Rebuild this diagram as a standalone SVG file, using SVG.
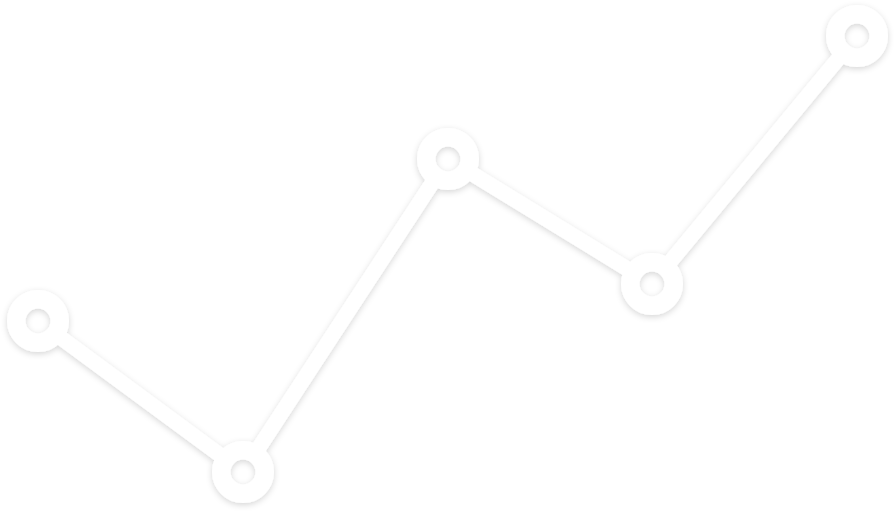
<svg xmlns="http://www.w3.org/2000/svg" width="896" height="513" viewBox="0 0 896 513">
  <defs>
    <filter id="shadow" x="-10%" y="-10%" width="120%" height="120%">
      <feDropShadow dx="0" dy="2" stdDeviation="3" flood-color="#000" flood-opacity="0.16"/>
    </filter>
  </defs>
  <style>
    .link { stroke: #ffffff; stroke-width: 15; fill: none; }
    .ring { stroke: #ffffff; stroke-width: 18.5; fill: none; }
  </style>
  <rect width="896" height="513" fill="#ffffff"/>
  <g filter="url(#shadow)">
    <g id="connectors">
      <line class="link" x1="55.7" y1="334" x2="225.3" y2="459"/>
      <line class="link" x1="255.1" y1="453.6" x2="435.9" y2="177.4"/>
      <line class="link" x1="466.8" y1="170.5" x2="633.2" y2="272.5"/>
      <line class="link" x1="666" y1="267" x2="843" y2="53"/>
    </g>
    <g id="node1"><circle class="ring" cx="38" cy="321" r="21.75"/></g>
    <g id="node2"><circle class="ring" cx="243" cy="472" r="21.75"/></g>
    <g id="node3"><circle class="ring" cx="448" cy="159" r="21.75"/></g>
    <g id="node4"><circle class="ring" cx="652" cy="284" r="21.75"/></g>
    <g id="node5"><circle class="ring" cx="857" cy="36" r="21.75"/></g>
  </g>
</svg>
